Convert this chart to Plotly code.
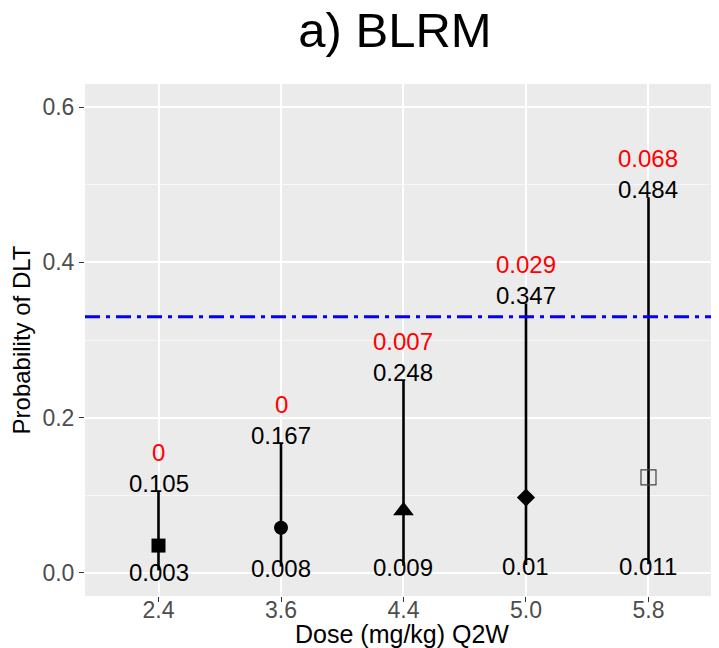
import plotly.graph_objects as go

doses = ["2.4", "3.6", "4.4", "5.0", "5.8"]
mean_p = [0.035, 0.058, 0.080, 0.097, 0.123]
lower = [0.003, 0.008, 0.009, 0.01, 0.011]
upper = [0.105, 0.167, 0.248, 0.347, 0.484]
lower_lbl = ["0.003", "0.008", "0.009", "0.01", "0.011"]
upper_lbl = ["0.105", "0.167", "0.248", "0.347", "0.484"]
red_lbl = ["0", "0", "0.007", "0.029", "0.068"]
symbols = ["square", "circle", "triangle-up", "diamond", "square-open"]
target = 0.33

FONT = "Liberation Sans, Arial, Helvetica, sans-serif"

fig = go.Figure()

# interval lines
lx, ly = [], []
for d, lo, hi in zip(doses, lower, upper):
    lx += [d, d, None]
    ly += [lo, hi, None]
fig.add_trace(go.Scatter(x=lx, y=ly, mode="lines",
                         line=dict(color="black", width=2.6),
                         hoverinfo="skip", showlegend=False))

# point estimates
sizes = [14, 14, 18, 14, 15]
for d, m, s, sz in zip(doses, mean_p, symbols, sizes):
    if s.endswith("open"):
        mk = dict(symbol=s, size=sz, color="#444444", line=dict(width=1.2, color="#444444"))
    else:
        mk = dict(symbol=s, size=sz, color="#000000", line=dict(width=0))
    fig.add_trace(go.Scatter(x=[d], y=[m], mode="markers", showlegend=False,
                             opacity=1, marker=mk))

# target line
fig.add_shape(type="line", xref="paper", x0=0, x1=1, yref="y", y0=target, y1=target,
              line=dict(color="#0000FF", width=3, dash="15px,6px,4px,6px"))

ann = []
for i, (lo, hi, ll, ul, rl) in enumerate(zip(lower, upper, lower_lbl, upper_lbl, red_lbl)):
    ann.append(dict(x=i, y=hi, text=ul, showarrow=False, yshift=8,
                    font=dict(size=24, color="black", family=FONT)))
    ann.append(dict(x=i, y=hi, text=rl, showarrow=False, yshift=39,
                    font=dict(size=24, color="#FF0000", family=FONT)))
    ann.append(dict(x=i, y=lo, text=ll, showarrow=False, yshift=-2,
                    font=dict(size=24, color="black", family=FONT)))

fig.update_layout(
    width=711, height=640,
    margin=dict(l=77, r=0, t=76, b=52),
    paper_bgcolor="white", plot_bgcolor="#EBEBEB",
    font=dict(family=FONT),
    title=dict(text="a) BLRM", x=387 / 711, xref="container", xanchor="center",
               y=1 - 22 / 640, yref="container", yanchor="middle",
               font=dict(size=49, color="black", family=FONT)),
    annotations=ann,
)
fig.update_xaxes(
    type="category", categoryorder="array", categoryarray=doses,
    range=[-0.6, 4.5756], showgrid=True, gridcolor="white", gridwidth=1.6,
    zeroline=False, ticks="outside", ticklen=5, tickcolor="#333333", tickwidth=1.2,
    ticklabelstandoff=-12,
    tickfont=dict(size=23, color="#4D4D4D", family=FONT),
    title=dict(text="Dose (mg/kg) Q2W", standoff=25,
               font=dict(size=25, color="black", family=FONT)),
    automargin=False,
)
fig.update_yaxes(
    range=[-0.03, 0.63], tickvals=[0, 0.2, 0.4, 0.6],
    ticktext=["0.0", "0.2", "0.4", "0.6"],
    showgrid=True, gridcolor="white", gridwidth=1.6, zeroline=False,
    minor=dict(tickvals=[0.1, 0.3, 0.5], showgrid=True, gridcolor="#F7F7F7", gridwidth=0.8, ticks=""),
    ticks="outside", ticklen=5, tickcolor="#333333", tickwidth=1.2,
    tickfont=dict(size=23, color="#4D4D4D", family=FONT),
    title=dict(text="Probability of DLT", standoff=8,
               font=dict(size=24, color="black", family=FONT)),
    automargin=False,
)

fig.write_html("out.html")
